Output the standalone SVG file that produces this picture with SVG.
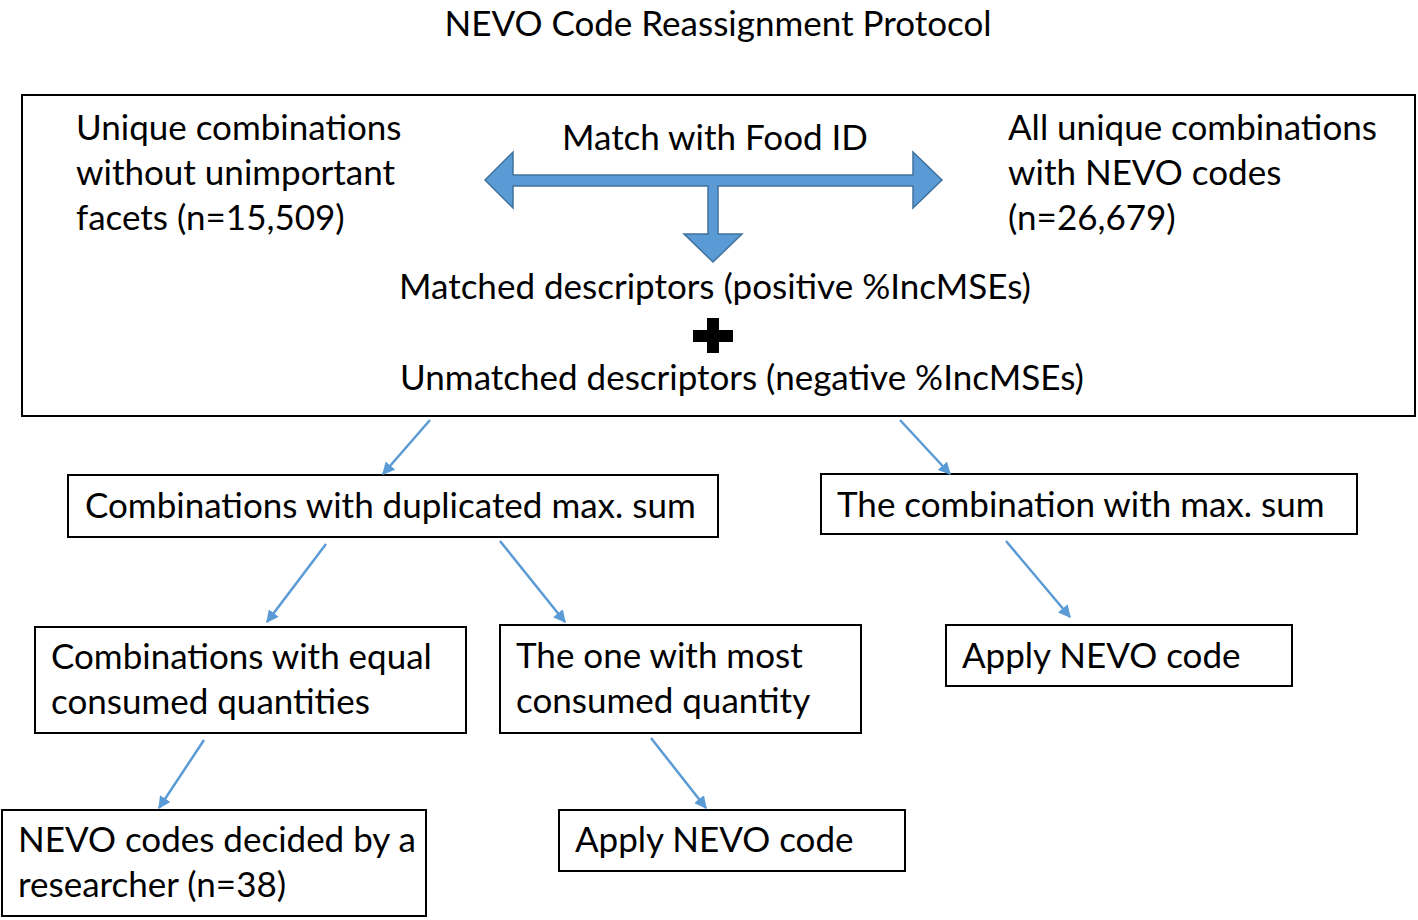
<svg xmlns="http://www.w3.org/2000/svg" width="1418" height="920" viewBox="0 0 1418 920">
<defs>
<style>
text{font-family:Lato,"Noto Sans","Liberation Sans",sans-serif;font-size:35px;fill:#000}
.box{fill:#fff;stroke:#000;stroke-width:2}
.conn{stroke:#5b9bd5;stroke-width:2.5;fill:none}
</style>
<marker id="ah" viewBox="0 0 10 10" refX="9" refY="5" markerWidth="5" markerHeight="5" orient="auto" markerUnits="strokeWidth">
<path d="M0,0 L10,5 L0,10 z" fill="#5b9bd5"/>
</marker>
</defs>
<rect width="1418" height="920" fill="#fff"/>
<text x="718" y="36" text-anchor="middle" font-size="32">NEVO Code Reassignment Protocol</text>

<g id="main">
<rect class="box" x="22" y="95" width="1393" height="321"/>
<text x="76" y="140">Unique combinations</text>
<text x="76" y="185">without unimportant</text>
<text x="76" y="230">facets (n=15,509)</text>
<text x="715" y="150" text-anchor="middle">Match with Food ID</text>
<text x="1008" y="140">All unique combinations</text>
<text x="1008" y="185">with NEVO codes</text>
<text x="1008" y="230">(n=26,679)</text>
<path d="M485,180 L513,152 L513,175 L913,175 L913,152 L942,180 L913,208 L913,186 L718,186 L718,234 L742,234 L713,262 L684,234 L708,234 L708,186 L513,186 L513,208 Z" fill="#5b9bd5" stroke="#41719c" stroke-width="1.5"/>
<text x="715" y="299" text-anchor="middle">Matched descriptors (positive %IncMSEs)</text>
<path d="M707,318 H719 V330 H733 V342 H719 V353 H707 V342 H693 V330 H707 Z" fill="#000"/>
<text x="742" y="390" text-anchor="middle">Unmatched descriptors (negative %IncMSEs)</text>
</g>

<g id="dup">
<rect class="box" x="68" y="475" width="650" height="62"/>
<text x="85" y="518">Combinations with duplicated max. sum</text>
</g>
<g id="maxsum">
<rect class="box" x="821" y="474" width="536" height="60"/>
<text x="837" y="517">The combination with max. sum</text>
</g>
<g id="equal">
<rect class="box" x="35" y="627" width="431" height="106"/>
<text x="51" y="669">Combinations with equal</text>
<text x="51" y="714">consumed quantities</text>
</g>
<g id="most">
<rect class="box" x="500" y="625" width="361" height="108"/>
<text x="516" y="668">The one with most</text>
<text x="516" y="713">consumed quantity</text>
</g>
<g id="apply1">
<rect class="box" x="946" y="625" width="346" height="61"/>
<text x="962" y="668">Apply NEVO code</text>
</g>
<g id="researcher">
<rect class="box" x="2" y="810" width="424" height="106"/>
<text x="18" y="852">NEVO codes decided by a</text>
<text x="18" y="897">researcher (n=38)</text>
</g>
<g id="apply2">
<rect class="box" x="559" y="810" width="346" height="61"/>
<text x="575" y="852">Apply NEVO code</text>
</g>

<g id="connectors">
<line class="conn" x1="430" y1="420" x2="383" y2="474" marker-end="url(#ah)"/>
<line class="conn" x1="900" y1="420" x2="950" y2="474" marker-end="url(#ah)"/>
<line class="conn" x1="326" y1="544" x2="267" y2="622" marker-end="url(#ah)"/>
<line class="conn" x1="500" y1="541" x2="565" y2="622" marker-end="url(#ah)"/>
<line class="conn" x1="1006" y1="541" x2="1070" y2="617" marker-end="url(#ah)"/>
<line class="conn" x1="204" y1="740" x2="159" y2="808" marker-end="url(#ah)"/>
<line class="conn" x1="651" y1="738" x2="706" y2="808" marker-end="url(#ah)"/>
</g>
</svg>
